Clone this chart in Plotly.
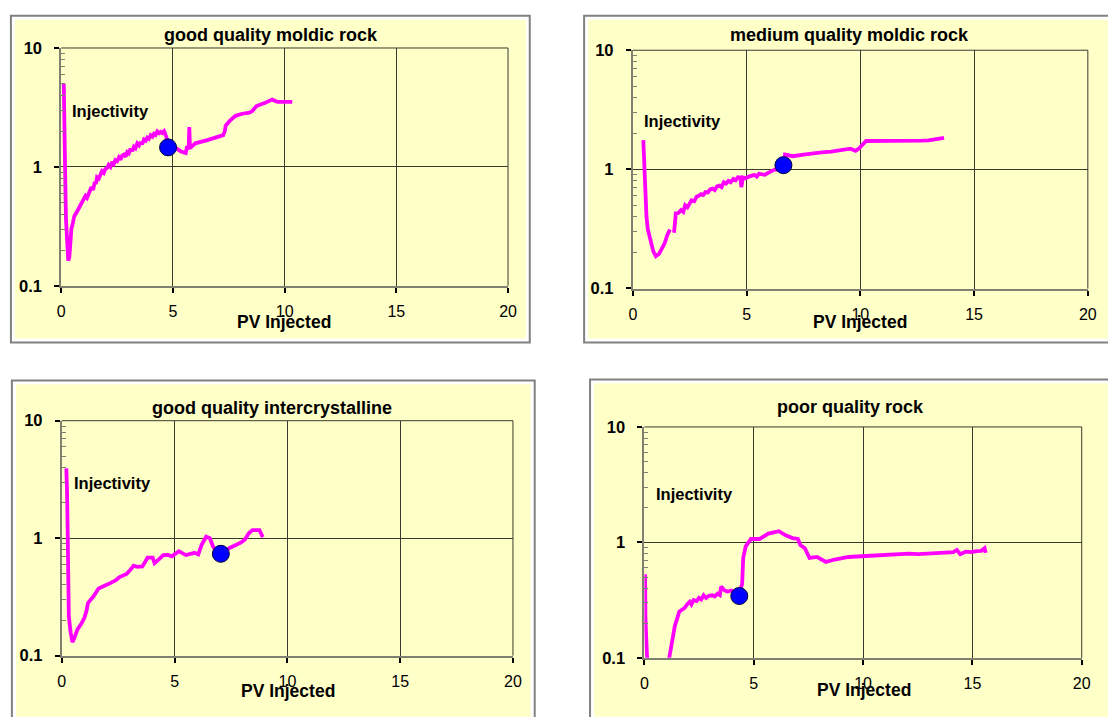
import plotly.graph_objects as go

W, H = 1108, 717

# ---------------- data ----------------
titles = ["good quality moldic rock", "medium quality moldic rock",
          "good quality intercrystalline", "poor quality rock"]
x_ticks = [0, 5, 10, 15, 20]
x_ticktext = ["0", "5", "10", "15", "20"]
y_ticks = [0.1, 1, 10]
y_ticktext = ["0.1", "1", "10"]
y_minor = [0.2, 0.3, 0.4, 0.5, 0.6, 0.7, 0.8, 0.9, 2, 3, 4, 5, 6, 7, 8, 9]

p1_x = [0.11, 0.13, 0.16, 0.19, 0.21, 0.25, 0.31, 0.36, 0.39, 0.45, 0.52, 0.58, 0.70, 0.82,
        0.92, 1.00, 1.08, 1.15, 1.21, 1.28, 1.35, 1.42, 1.50, 1.55, 1.60, 1.68, 1.75, 1.82,
        1.90, 1.97, 2.05, 2.12, 2.20, 2.28, 2.35, 2.42, 2.50, 2.58, 2.65, 2.72, 2.80, 2.88,
        2.95, 3.02, 3.10, 3.18, 3.25, 3.32, 3.40, 3.48, 3.55, 3.62, 3.70, 3.78, 3.85, 3.92,
        4.00, 4.08, 4.15, 4.22, 4.30, 4.38, 4.45, 4.52, 4.60, 4.66, 4.70, 4.78, 4.95, 5.13,
        5.36, 5.57, 5.63, 5.70, 5.73, 5.76, 5.85, 6.00, 6.54, 7.00, 7.25, 7.32, 7.36, 7.55,
        7.80, 8.10, 8.42, 8.55, 8.74, 9.13, 9.44, 9.68, 10.00, 10.34]
p1_y = [5.0, 1.8, 0.95, 0.55, 0.36, 0.21, 0.163, 0.175, 0.206, 0.30, 0.34, 0.385, 0.42, 0.466,
        0.49, 0.53, 0.57, 0.55, 0.60, 0.63, 0.68, 0.64, 0.75, 0.72, 0.82, 0.80, 0.86, 0.92,
        0.89, 0.96, 0.98, 1.04, 1.00, 1.10, 1.06, 1.14, 1.12, 1.20, 1.15, 1.24, 1.27, 1.22,
        1.33, 1.30, 1.42, 1.36, 1.48, 1.44, 1.58, 1.52, 1.62, 1.55, 1.70, 1.66, 1.76, 1.72,
        1.85, 1.80, 1.90, 1.86, 1.99, 1.92, 1.97, 1.93, 2.00, 1.90, 1.79, 1.55, 1.45, 1.44,
        1.35, 1.31, 1.50, 1.40, 2.16, 1.44, 1.50, 1.58, 1.68, 1.78, 1.85, 2.00, 2.23, 2.45,
        2.69, 2.80, 2.86, 2.95, 3.25, 3.46, 3.68, 3.52, 3.52, 3.52]
p1_dot_x = [4.78]
p1_dot_y = [1.46]

p2_x = [0.46, 0.48, 0.50, 0.55, 0.60, 0.66, 0.75, 0.81, 0.90, 1.01, 1.15, 1.27, 1.40, 1.50,
        1.63, None, 1.81, 1.86, 1.89, 2.00, 2.12, 2.22, 2.30, 2.40, 2.50, 2.58, 2.70, 2.80,
        2.90, 3.00, 3.10, 3.19, 3.30, 3.40, 3.50, 3.60, 3.70, 3.81, 3.90, 4.00, 4.10, 4.20,
        4.30, 4.42, 4.52, 4.62, 4.73, 4.77, 4.84, 4.95, 5.10, 5.20, 5.34, 5.45, 5.55, 5.65,
        5.80, 5.96, 6.10, 6.26, 6.40, 6.50, 6.62, 6.69, 7.03, 7.50, 7.95, 8.30, 8.72, 9.20,
        9.56, 9.79, 9.95, 10.25, 11.02, 11.79, 12.20, 12.71, 13.00, 13.32, 13.68]
p2_y = [1.76, 1.30, 0.97, 0.52, 0.40, 0.313, 0.26, 0.228, 0.205, 0.187, 0.195, 0.215, 0.24,
        0.276, 0.313, None, 0.294, 0.38, 0.428, 0.43, 0.456, 0.44, 0.50, 0.48, 0.53, 0.55,
        0.54, 0.59, 0.60, 0.62, 0.61, 0.644, 0.64, 0.68, 0.69, 0.67, 0.72, 0.73, 0.71, 0.78,
        0.76, 0.80, 0.78, 0.83, 0.81, 0.86, 0.855, 0.71, 0.855, 0.84, 0.87, 0.89, 0.90, 0.87,
        0.92, 0.91, 0.90, 0.94, 0.96, 1.00, 0.99, 1.03, 1.085, 1.33, 1.29, 1.33, 1.37, 1.39,
        1.41, 1.45, 1.49, 1.43, 1.50, 1.73, 1.73, 1.71, 1.72, 1.74, 1.75, 1.78, 1.84]
p2_dot_x = [6.62]
p2_dot_y = [1.085]

p3_x = [0.20, 0.22, 0.23, 0.26, 0.28, 0.31, 0.39, 0.47, 0.54, 0.70, 0.85, 1.00, 1.09, 1.16,
        1.28, 1.40, 1.63, 1.80, 1.94, 2.10, 2.25, 2.40, 2.56, 2.70, 2.87, 3.05, 3.18, 3.35,
        3.57, 3.70, 3.80, 4.03, 4.11, 4.30, 4.50, 4.70, 4.88, 5.19, 5.50, 5.89, 6.05, 6.20,
        6.40, 6.56, 6.70, 6.85, 7.05, 7.44, 7.75, 7.95, 8.11, 8.29, 8.45, 8.76, 8.91]
p3_y = [3.93, 3.30, 2.60, 1.14, 0.60, 0.217, 0.158, 0.130, 0.139, 0.168, 0.185, 0.21, 0.239,
        0.28, 0.30, 0.318, 0.373, 0.39, 0.397, 0.41, 0.423, 0.44, 0.466, 0.48, 0.496, 0.54,
        0.582, 0.57, 0.575, 0.63, 0.683, 0.683, 0.612, 0.66, 0.718, 0.72, 0.70, 0.775, 0.718,
        0.75, 0.727, 0.88, 1.03, 1.00, 0.853, 0.78, 0.736, 0.826, 0.88, 0.92, 0.97, 1.10,
        1.17, 1.17, 1.02]
p3_dot_x = [7.05]
p3_dot_y = [0.736]

p4_x = [0.03, 0.05, 0.11, 0.14, None, 1.09, 1.20, 1.39, 1.60, 1.84, 1.95, 2.07, 2.15, 2.25,
        2.39, 2.50, 2.60, 2.71, 2.82, 2.95, 3.11, 3.22, 3.35, 3.45, 3.51, 3.60, 3.67, 3.80,
        3.99, 4.10, 4.20, 4.34, 4.47, 4.52, 4.63, 4.87, 5.27, 5.67, 6.15, 6.46, 6.78, 7.02,
        7.13, 7.34, 7.55, 7.90, 8.30, 8.70, 9.34, 10.14, 10.93, 11.73, 12.10, 12.53, 13.33,
        13.80, 14.13, 14.29, 14.44, 14.70, 14.92, 15.20, 15.40, 15.56, 15.61]
p4_y = [0.53, 0.214, 0.112, 0.089, None, 0.089, 0.12, 0.188, 0.252, 0.27, 0.29, 0.306, 0.29,
        0.316, 0.31, 0.33, 0.32, 0.348, 0.33, 0.345, 0.348, 0.34, 0.36, 0.35, 0.414, 0.39,
        0.383, 0.375, 0.383, 0.37, 0.37, 0.36, 0.436, 0.733, 0.92, 1.07, 1.07, 1.19, 1.25,
        1.15, 1.09, 1.07, 0.95, 0.89, 0.733, 0.747, 0.678, 0.71, 0.747, 0.762, 0.782, 0.792,
        0.80, 0.792, 0.807, 0.815, 0.823, 0.86, 0.79, 0.83, 0.823, 0.84, 0.845, 0.89, 0.81]
p4_dot_x = [4.34]
p4_dot_y = [0.343]

# ---------------- layout geometry (page pixels) ----------------
boxes = [(7, 7, 532, 342), (587, 7, 1125, 342), (8, 381, 537, 730), (593, 380, 1125, 730)]
plots = [(58, 40, 510, 284), (636.3, 42.3, 1096.7, 286.7),
         (58.5, 422.3, 515, 663.3), (648, 428.7, 1090.5, 665.5)]
title_pos = [(270, 27), (856, 27), (271, 409), (857, 408)]
inj_pos = [(66.5, 105), (645.5, 115), (69, 486), (657.5, 498)]
pv_pos = [(283, 321), (866, 321), (287, 700), (870, 699)]

YELLOW = "#FFFFC8"
AXIS = "#808070"
GRID = "#3a3a30"
FONT = "Liberation Sans, Arial, sans-serif"


def px(x):
    return x / W


def py(y):
    return 1 - y / H


fig = go.Figure()
series = [(p1_x, p1_y, p1_dot_x, p1_dot_y), (p2_x, p2_y, p2_dot_x, p2_dot_y),
          (p3_x, p3_y, p3_dot_x, p3_dot_y), (p4_x, p4_y, p4_dot_x, p4_dot_y)]

shapes = []
annotations = []
for i, (sx, sy, dx, dy) in enumerate(series):
    n = "" if i == 0 else str(i + 1)
    fig.add_trace(go.Scatter(x=sx, y=sy, mode="lines", xaxis="x" + n, yaxis="y" + n,
                             line=dict(color="#FF00FF", width=3.8), connectgaps=False,
                             showlegend=False, hoverinfo="skip"))
    fig.add_trace(go.Scatter(x=dx, y=dy, mode="markers", xaxis="x" + n, yaxis="y" + n,
                             marker=dict(color="#0000FF", size=17,
                                         line=dict(color="#000040", width=1)),
                             showlegend=False, cliponaxis=False, hoverinfo="skip"))
    bx0, by0, bx1, by1 = boxes[i]
    shapes.append(dict(type="rect", xref="paper", yref="paper", layer="below",
                       x0=px(bx0), x1=px(bx1), y0=py(by1), y1=py(by0),
                       line=dict(color="#808080", width=2), fillcolor="white"))
    shapes.append(dict(type="rect", xref="paper", yref="paper", layer="below",
                       x0=px(bx0 + 4), x1=px(bx1 - 4), y0=py(by1 - 4), y1=py(by0 + 4),
                       line=dict(width=0), fillcolor=YELLOW))
    # top (y = 10) and right (x = 20) frame lines of the plot area
    shapes.append(dict(type="line", xref="x" + n + " domain", yref="y" + n + " domain",
                       x0=0, x1=1, y0=1, y1=1, line=dict(color=GRID, width=1)))
    shapes.append(dict(type="line", xref="x" + n + " domain", yref="y" + n + " domain",
                       x0=1, x1=1, y0=0, y1=1, line=dict(color=GRID, width=1)))
    qx0, qy0, qx1, qy1 = plots[i]
    ax = dict(domain=[px(qx0), px(qx1)], range=[0, 20], anchor="y" + n,
              tickmode="array", tickvals=x_ticks, ticktext=x_ticktext,
              showline=True, linecolor=AXIS, linewidth=2,
              ticks="outside", ticklen=5, tickwidth=1.5, tickcolor="black",
              showgrid=True, gridcolor=GRID, gridwidth=1, zeroline=False,
              tickfont=dict(family=FONT, size=16, color="black"),
              ticklabelstandoff=5, fixedrange=True)
    ay = dict(domain=[py(qy1), py(qy0)], type="log", range=[-1, 1], anchor="x" + n,
              tickmode="array", tickvals=y_ticks, ticktext=y_ticktext,
              showline=True, linecolor=AXIS, linewidth=2,
              ticks="outside", ticklen=5, tickwidth=1.5, tickcolor="black",
              minor=dict(tickmode="array", tickvals=y_minor, ticks="inside", ticklen=4,
                         tickcolor=AXIS, tickwidth=1, showgrid=False),
              showgrid=True, gridcolor=GRID, gridwidth=1, zeroline=False,
              tickfont=dict(family=FONT, size=16.5, color="black", weight="bold"),
              ticklabelstandoff=9, fixedrange=True)
    fig.update_layout(**{"xaxis" + n: ax, "yaxis" + n: ay})
    tx, ty = title_pos[i]
    annotations.append(dict(text=titles[i], xref="paper", yref="paper", x=px(tx), y=py(ty),
                            xanchor="center", yanchor="middle", showarrow=False,
                            font=dict(family=FONT, size=18, color="black", weight="bold")))
    ix, iy = inj_pos[i]
    annotations.append(dict(text="Injectivity", xref="paper", yref="paper", x=px(ix), y=py(iy),
                            xanchor="left", yanchor="middle", showarrow=False,
                            font=dict(family=FONT, size=16.5, color="black", weight="bold")))
    vx, vy = pv_pos[i]
    annotations.append(dict(text="PV Injected", xref="paper", yref="paper", x=px(vx), y=py(vy),
                            xanchor="center", yanchor="middle", showarrow=False,
                            font=dict(family=FONT, size=17.5, color="black", weight="bold")))

fig.update_layout(width=W, height=H, autosize=False,
                  margin=dict(l=0, r=0, t=0, b=0, pad=0),
                  font=dict(family=FONT, size=15, color="black"),
                  paper_bgcolor="white", plot_bgcolor="rgba(0,0,0,0)",
                  shapes=shapes, annotations=annotations, showlegend=False)

fig.write_html("out.html", config={"displayModeBar": False},
               post_script="document.body.style.margin='0';document.body.style.overflow='hidden';")
